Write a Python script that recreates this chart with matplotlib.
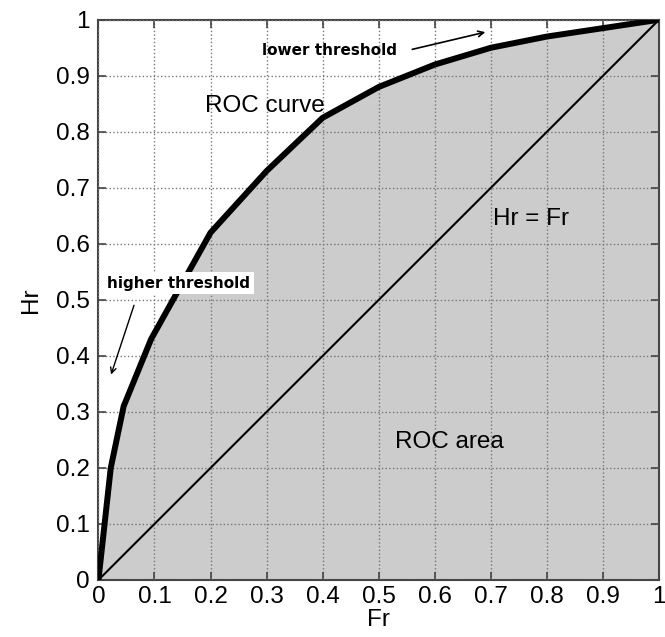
import numpy as np
import matplotlib.pyplot as plt

# ROC curve points
fr = [0.0, 0.022, 0.045, 0.094, 0.2, 0.3, 0.4, 0.5, 0.6, 0.7, 0.8, 0.9, 1.0]
hr = [0.0, 0.2, 0.31, 0.43, 0.62, 0.73, 0.825, 0.88, 0.92, 0.95, 0.97, 0.985, 1.0]
diag = [0.0, 1.0]
ticks = np.round(np.arange(0, 1.01, 0.1), 1)
tick_labels = ['0', '0.1', '0.2', '0.3', '0.4', '0.5', '0.6', '0.7', '0.8', '0.9', '1']

plt.rcParams['font.family'] = ['Liberation Sans', 'DejaVu Sans']

fig = plt.figure(figsize=(6.65, 6.37), dpi=100)
ax = fig.add_axes([0.148, 0.0895, 0.843, 0.8795])

ax.fill_between(fr, hr, 0, color='#cccccc', zorder=1)
ax.plot(fr, hr, color='black', lw=4.3, solid_joinstyle='round', zorder=4)
ax.plot(diag, diag, color='black', lw=1.5, zorder=3)

ax.set_xlim(0, 1)
ax.set_ylim(0, 1)
ax.set_xticks(ticks)
ax.set_yticks(ticks)
ax.set_xticklabels(tick_labels)
ax.set_yticklabels(tick_labels)
ax.tick_params(direction='in', length=6, width=1.2, top=True, right=True,
               labelsize=17.5, color='#444444', pad=6)
ax.tick_params(axis='x', pad=4)
ax.grid(True, linestyle=':', color='#777777', lw=1.0, zorder=2)
ax.set_axisbelow(False)
for s in ax.spines.values():
    s.set_color('#444444')
    s.set_linewidth(1.5)

ax.set_xlabel('Fr', fontsize=17.5, labelpad=1)
ax.set_ylabel('Hr', fontsize=17.5, labelpad=10)

ax.text(0.19, 0.836, 'ROC curve', fontsize=17.5, zorder=5)
ax.text(0.703, 0.634, 'Hr = Fr', fontsize=17.5, zorder=5)
ax.text(0.529, 0.236, 'ROC area', fontsize=17.5, zorder=5)

ax.text(0.291, 0.946, 'lower threshold', fontsize=11, fontweight='bold',
        family='DejaVu Sans', zorder=5, va='center')
ax.annotate('', xy=(0.695, 0.979), xytext=(0.555, 0.946),
            arrowprops=dict(arrowstyle='->', color='black', lw=1.2), zorder=5)

ax.text(0.016, 0.53, 'higher threshold', fontsize=11, fontweight='bold',
        family='DejaVu Sans', va='center', zorder=6,
        bbox=dict(facecolor='white', edgecolor='none', pad=2.5))
ax.annotate('', xy=(0.021, 0.362), xytext=(0.065, 0.495),
            arrowprops=dict(arrowstyle='->', color='black', lw=1.0), zorder=5)

plt.savefig('out.png', dpi=100)
